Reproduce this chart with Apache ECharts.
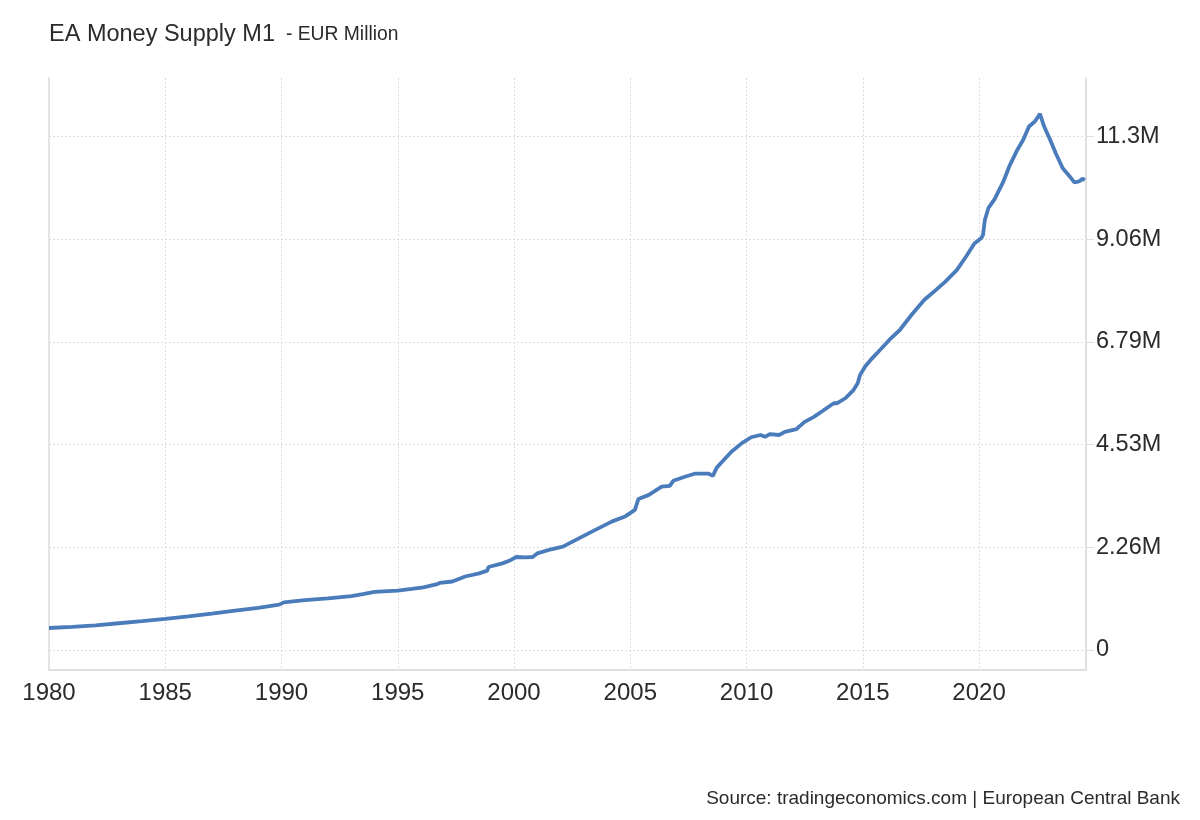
<!DOCTYPE html>
<html>
<head>
<meta charset="utf-8">
<script src="https://cdn.jsdelivr.net/npm/echarts@6/dist/echarts.min.js"></script>
<style>
html,body{margin:0;padding:0;background:#fff;}
#chart{width:1200px;height:820px;}
</style>
</head>
<body>
<div id="chart"></div>
<script>
// Decimal years of the sampled observations
const years = [
  1980.0, 1981.0, 1982.0, 1983.0, 1984.0, 1985.0, 1986.0, 1987.0, 1988.0, 1989.0,
  1989.9, 1990.1, 1991.0, 1992.0, 1993.0, 1993.5, 1994.0, 1995.0, 1995.6, 1996.1,
  1996.7, 1996.8, 1997.35, 1997.9, 1998.5, 1998.85, 1998.9, 1999.5, 1999.85, 2000.1,
  2000.5, 2000.8, 2001.0, 2001.6, 2002.1, 2002.6, 2003.35, 2004.2, 2004.8, 2005.2,
  2005.35, 2005.8, 2006.35, 2006.7, 2006.85, 2007.35, 2007.8, 2008.35, 2008.55, 2008.72,
  2008.95, 2009.35, 2009.8, 2010.2, 2010.6, 2010.8, 2011.0, 2011.4, 2011.65, 2012.15,
  2012.25, 2012.5, 2012.9, 2013.3, 2013.75, 2013.9, 2014.25, 2014.6, 2014.78, 2014.88,
  2015.1, 2015.4, 2015.75, 2016.15, 2016.6, 2017.1, 2017.65, 2018.15, 2018.55, 2019.05,
  2019.45, 2019.8, 2020.1, 2020.17, 2020.25, 2020.4, 2020.67, 2021.05, 2021.3, 2021.65,
  2021.9, 2022.15, 2022.4, 2022.62, 2022.8, 2023.03, 2023.3, 2023.6, 2023.9, 2024.1,
  2024.3, 2024.45, 2024.55
];
// EA Money Supply M1, EUR Million
const m1 = [
  485000, 510000, 545000, 590000, 635000, 685000, 740000, 800000, 870000, 930000,
  1000000, 1050000, 1100000, 1140000, 1190000, 1230000, 1280000, 1310000, 1345000, 1380000,
  1450000, 1480000, 1510000, 1620000, 1690000, 1750000, 1830000, 1910000, 1980000, 2050000,
  2040000, 2050000, 2130000, 2220000, 2280000, 2410000, 2610000, 2830000, 2950000, 3090000,
  3330000, 3420000, 3600000, 3620000, 3730000, 3820000, 3890000, 3890000, 3840000, 4020000,
  4150000, 4370000, 4560000, 4690000, 4740000, 4700000, 4760000, 4740000, 4810000, 4870000,
  4920000, 5030000, 5140000, 5280000, 5440000, 5440000, 5550000, 5730000, 5880000, 6060000,
  6250000, 6430000, 6620000, 6840000, 7060000, 7390000, 7720000, 7940000, 8120000, 8380000,
  8680000, 8960000, 9080000, 9150000, 9480000, 9740000, 9940000, 10330000, 10660000, 11030000,
  11250000, 11540000, 11650000, 11820000, 11540000, 11280000, 10950000, 10620000, 10440000, 10310000,
  10330000, 10390000, 10360000
];
const xTicks = [1980, 1985, 1990, 1995, 2000, 2005, 2010, 2015, 2020];
const yTicks = [0, 2265000, 4530000, 6795000, 9060000, 11325000];
const yTickLabels = ['0', '2.26M', '4.53M', '6.79M', '9.06M', '11.3M'];

const points = years.map((y, i) => [y, m1[i]]);

const chart = echarts.init(document.getElementById('chart'), null, {renderer: 'canvas'});
const FONT = '"Liberation Sans", Arial, Helvetica, sans-serif';
chart.setOption({
  backgroundColor: '#ffffff',
  animation: false,
  textStyle: {fontFamily: FONT},
  title: [{
    text: '{a|EA Money Supply M1}{b|- EUR Million}',
    left: 44,
    top: 18,
    textStyle: {
      fontWeight: 'normal',
      rich: {
        a: {fontFamily: FONT, fontSize: 23.5, fontWeight: 'normal', color: '#2b2b2b'},
        b: {fontFamily: FONT, fontSize: 19.3, fontWeight: 'normal', color: '#2b2b2b', padding: [0, 0, 0, 11]}
      }
    }
  }, {
    text: 'Source: tradingeconomics.com | European Central Bank',
    right: 15,
    top: 784,
    textStyle: {fontFamily: FONT, fontSize: 19, fontWeight: 'normal', color: '#2b2b2b'}
  }],
  grid: {left: 49, right: 114, top: 78, bottom: 150, containLabel: false},
  xAxis: {
    type: 'value',
    min: 1980,
    max: 2024.6,
    axisLine: {show: true, onZero: false, lineStyle: {color: '#e0e0e0', width: 2}},
    axisTick: {show: false, customValues: xTicks},
    axisLabel: {
      customValues: xTicks,
      fontFamily: FONT, fontSize: 24, color: '#2b2b2b', margin: 11,
      formatter: v => String(Math.round(v))
    },
    splitLine: {show: true, lineStyle: {color: '#dddddd', type: [2, 2], width: 1}}
  },
  yAxis: [{
    type: 'value',
    position: 'right',
    min: -441000,
    max: 12610000,
    axisLine: {show: true, lineStyle: {color: '#e0e0e0', width: 2}},
    axisTick: {show: true, customValues: yTicks, length: 8, lineStyle: {color: '#e0e0e0'}},
    axisLabel: {
      customValues: yTicks,
      fontFamily: FONT, fontSize: 23.5, color: '#2b2b2b', margin: 10,
      formatter: v => yTickLabels[yTicks.indexOf(v)] ?? ''
    },
    splitLine: {show: true, lineStyle: {color: '#dddddd', type: [2, 2], width: 1}}
  }, {
    type: 'value',
    position: 'left',
    min: -441000,
    max: 12610000,
    axisLine: {show: true, lineStyle: {color: '#e3e3e3', width: 2}},
    axisTick: {show: false},
    axisLabel: {show: false},
    splitLine: {show: false}
  }],
  series: [{
    type: 'line',
    data: points,
    yAxisIndex: 0,
    showSymbol: false,
    smooth: false,
    lineStyle: {color: '#4a7bbb', width: 3.8},
    itemStyle: {color: '#4a7bbb'}
  }]
});
</script>
</body>
</html>
